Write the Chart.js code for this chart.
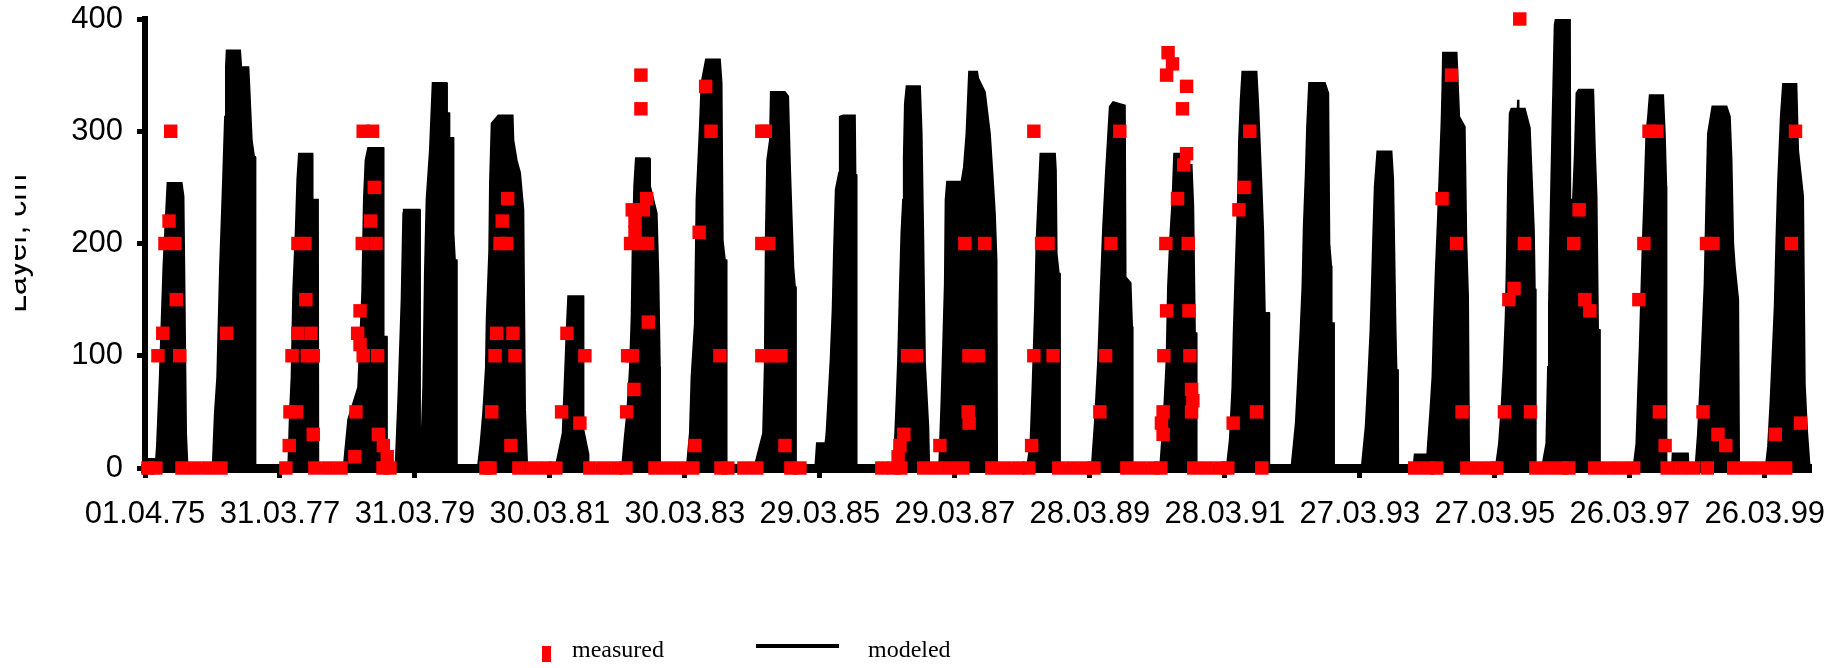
<!DOCTYPE html>
<html>
<head>
<meta charset="utf-8">
<title>Layer, cm</title>
<script src="https://cdn.jsdelivr.net/npm/chart.js@4.4.1/dist/chart.umd.min.js"></script>
<style>
  html, body { margin: 0; padding: 0; background: #fff; }
  #box { width: 1848px; height: 668px; }
</style>
</head>
<body>
<div id="box"><canvas id="grafico"></canvas></div>
<script>
// x = days since 01.04.1975, y = layer in cm
const xTickLabels = ['01.04.75', '31.03.77', '31.03.79', '30.03.81', '30.03.83', '29.03.85', '29.03.87',
                     '28.03.89', '28.03.91', '27.03.93', '27.03.95', '26.03.97', '26.03.99'];
const tickStep = 730;
const lastDay = 9010;
const seriesNames = ['measured', 'modeled'];

const measured = [
  [16,0],[59,0],[70,100],[96,120],[108,200],[130,220],[139,300],[162,200],[169,150],[188,100],
  [200,0],[270,0],[341,0],[411,0],[442,120],
  [762,0],[780,20],[784,50],[795,100],[820,50],[826,120],[827,200],[865,200],[870,150],[878,100],[898,120],[910,100],[910,30],
  [919,0],[990,0],[1060,0],[1135,10],
  [1141,50],[1150,120],[1163,140],[1163,110],[1175,200],[1180,100],[1180,300],[1220,220],[1231,300],[1240,250],[1249,200],[1258,100],[1262,30],[1287,0],[1289,20],[1310,10],[1325,0],
  [1844,0],[1866,0],[1875,50],[1893,100],[1902,120],[1920,200],[1932,220],[1956,200],[1961,240],[1979,20],[1990,120],[2001,100],
  [2022,0],[2093,0],[2163,0],[2222,0],
  [2253,50],[2282,120],[2352,40],[2379,100],
  [2406,0],[2477,0],[2547,0],[2601,0],
  [2605,50],[2610,100],[2626,200],[2635,100],[2635,230],[2644,70],[2650,220],[2650,210],[2677,200],[2682,350],[2682,320],[2695,230],[2713,240],[2718,200],[2722,130],
  [2758,0],[2828,0],[2898,0],[2963,0],
  [2974,20],[2997,210],[3032,340],[3061,300],[3109,100],
  [3115,0],[3152,0],[3239,0],[3309,0],
  [3336,300],[3355,300],[3336,200],[3374,200],[3336,100],[3390,100],[3439,100],[3461,20],
  [3493,0],[3542,0],
  [3985,0],[4050,0],[4073,10],[4083,20],[4088,0],[4104,30],[4124,100],[4173,100],
  [4212,0],[4282,0],[4353,0],[4423,0],
  [4299,20],[4434,200],[4452,50],[4456,100],[4457,40],[4506,100],[4542,200],
  [4580,0],[4650,0],[4721,0],[4780,0],
  [4795,20],[4807,100],[4807,300],[4849,200],[4884,200],[4911,100],
  [4942,0],[5013,0],[5083,0],[5132,0],
  [5164,50],[5195,100],[5224,200],[5272,300],
  [5310,0],[5380,0],[5451,0],[5494,0],
  [5497,40],[5506,50],[5506,30],[5510,100],[5521,200],[5525,350],[5525,140],[5533,370],[5557,360],[5584,240],[5611,320],[5618,270],[5633,340],[5633,280],[5642,200],[5646,140],[5651,100],[5660,70],[5667,60],[5660,50],
  [5672,0],[5742,0],[5813,0],[5856,0],
  [5885,40],[5916,230],[5944,250],[5975,300],[6011,50],[6040,0],
  [6867,0],[6938,0],[6986,0],
  [7015,240],[7066,350],[7093,200],[7123,50],
  [7149,0],[7219,0],[7289,0],[7311,0],
  [7352,50],[7376,150],[7404,160],[7435,400],[7460,200],[7493,50],
  [7522,0],[7592,0],[7662,0],[7700,0],
  [7727,200],[7756,230],[7787,150],[7814,140],
  [7841,0],[7911,0],[7981,0],[8051,0],
  [8079,150],[8106,200],[8134,300],[8177,300],[8190,50],[8221,20],
  [8232,0],[8303,0],[8373,0],[8449,0],
  [8426,50],[8445,200],[8480,200],[8507,30],[8549,20],
  [8592,0],[8662,0],[8732,0],[8803,0],[8873,0],
  [8817,30],[8904,200],[8926,300],[8953,40]
];

// outline of the modeled curve, one row per winter
const modeled = [
  [0,0],[15,8],[60,8],[65,20],[80,80],[100,180],[122,254],[198,254],[208,242],[222,30],[230,0],
  [366,0],[378,49],[391,81],[406,179],[420,245],[433,313],[438,357],[442,372],[514,372],[520,357],[559,357],[564,340],[577,292],[590,277],[595,277],[597,0],
  [775,0],[784,49],[793,81],[802,159],[815,209],[824,257],[833,280],[905,280],[906,239],[935,239],[937,0],
  [1075,0],[1081,12],[1099,43],[1153,72],[1175,156],[1184,239],[1193,274],[1207,285],[1289,285],[1290,117],[1307,117],[1308,0],
  [1355,0],[1370,61],[1388,150],[1397,227],[1400,230],[1485,230],[1487,0],
  [1491,0],[1505,72],[1514,174],[1523,239],[1541,283],[1556,343],[1631,343],[1633,316],[1645,316],[1646,294],[1667,294],[1668,209],[1676,185],[1685,185],[1686,0],
  [1800,0],[1815,22],[1829,49],[1844,90],[1848,132],[1862,194],[1866,254],[1875,307],[1911,314],[1988,314],[1992,292],[2010,274],[2028,263],[2046,230],[2055,52],[2067,0],
  [2220,0],[2259,31],[2271,81],[2280,120],[2289,153],[2370,153],[2371,34],[2397,13],[2398,0],
  [2580,0],[2595,28],[2608,49],[2623,90],[2632,135],[2637,191],[2646,251],[2655,276],[2727,276],[2731,251],[2767,227],[2776,173],[2784,90],[2785,0],
  [2930,0],[2947,31],[2956,81],[2974,129],[2983,239],[3001,304],[3010,343],[3034,364],[3109,364],[3118,343],[3124,203],[3136,185],[3144,185],[3145,0],
  [3295,0],[3343,31],[3352,90],[3358,209],[3365,274],[3380,292],[3385,335],[3460,335],[3478,331],[3488,268],[3506,179],[3515,161],[3519,161],[3520,0],
  [3625,0],[3634,22],[3680,22],[3686,31],[3695,58],[3708,96],[3719,141],[3726,191],[3736,248],[3754,263],[3758,313],[3776,314],[3839,314],[3842,261],[3847,261],[3848,0],
  [4050,0],[4065,61],[4073,96],[4082,156],[4091,209],[4100,239],[4104,277],[4110,325],[4119,340],[4191,340],[4200,298],[4209,203],[4218,93],[4236,37],[4241,0],
  [4295,0],[4308,61],[4317,111],[4326,165],[4330,239],[4338,255],[4416,255],[4429,268],[4443,298],[4457,353],[4500,353],[4506,347],[4542,335],[4569,298],[4584,260],[4596,227],[4605,185],[4607,185],[4608,0],
  [4770,0],[4789,22],[4800,72],[4814,144],[4822,203],[4830,233],[4843,280],[4921,280],[4926,265],[4930,191],[4942,173],[4947,173],[4948,0],
  [5120,0],[5137,40],[5155,96],[5168,156],[5182,215],[5197,263],[5218,322],[5236,326],[5299,323],[5303,170],[5330,165],[5338,126],[5341,0],
  [5490,0],[5510,46],[5525,96],[5533,162],[5546,209],[5557,239],[5566,280],[5597,280],[5600,270],[5660,270],[5669,233],[5678,120],[5686,120],[5687,0],
  [5850,0],[5867,25],[5881,72],[5888,120],[5899,179],[5912,245],[5917,292],[5926,328],[5935,353],[6011,353],[6020,325],[6038,251],[6047,212],[6056,138],[6079,138],[6080,0],
  [6200,0],[6224,40],[6236,78],[6249,120],[6260,162],[6267,215],[6278,263],[6285,304],[6296,343],[6381,343],[6399,334],[6405,200],[6415,180],[6417,129],[6429,129],[6430,0],
  [6580,0],[6602,37],[6615,78],[6628,123],[6636,167],[6642,203],[6651,251],[6665,282],[6741,282],[6750,257],[6763,123],[6768,87],[6776,87],[6777,0],
  [6860,0],[6867,12],[6935,12],[6939,22],[6952,52],[6963,81],[6970,123],[6981,176],[6993,224],[7003,268],[7012,307],[7017,340],[7020,370],[7093,370],[7107,313],[7137,304],[7146,200],[7155,153],[7160,153],[7161,0],
  [7305,0],[7323,22],[7336,52],[7348,90],[7359,135],[7366,191],[7372,257],[7381,316],[7390,320],[7424,320],[7426,328],[7428,320],[7462,320],[7489,303],[7511,212],[7516,159],[7520,159],[7521,0],
  [7555,0],[7579,22],[7588,90],[7593,144],[7601,218],[7612,307],[7624,395],[7630,400],[7706,400],[7708,239],[7723,239],[7733,280],[7742,334],[7754,337],[7832,337],[7841,283],[7850,242],[7858,123],[7867,123],[7868,0],
  [8050,0],[8066,22],[8075,67],[8084,108],[8093,159],[8102,209],[8111,251],[8120,298],[8129,313],[8138,332],[8210,332],[8219,298],[8227,251],[8228,0],[8258,0],[8262,13],[8344,13],[8348,0],
  [8385,0],[8399,31],[8412,75],[8423,117],[8435,165],[8444,236],[8453,298],[8477,322],[8553,322],[8571,313],[8580,274],[8589,200],[8598,179],[8616,150],[8620,150],[8621,0],
  [8765,0],[8778,19],[8791,58],[8802,99],[8814,144],[8823,203],[8832,254],[8847,313],[8859,342],[8931,342],[8940,283],[8967,242],[8976,75],[8988,34],[9003,0],[9008,0]
];

// legend symbols: a small red block and a long black bar
function legendIcon(w, h, color, rx, ry, rw, rh) {
  const c = document.createElement('canvas');
  c.width = w; c.height = h;
  const g = c.getContext('2d');
  g.fillStyle = color;
  g.fillRect(rx, ry, rw, rh);
  return c;
}
const legendIcons = [
  legendIcon(96, 22, '#ff0000', 78, 6, 9, 16),
  legendIcon(110, 22, '#000000', 3, 4, 83, 4)
];

// the legend sits left of centre in the original
const legendStart = 464;
const legendSpot = {
  id: 'legendSpot',
  afterLayout(chart) {
    const lg = chart.legend;
    lg.left = legendStart - lg.options.labels.padding;
    lg.top += 5;
  }
};

// the axis title is cut off at the left edge in the original
const titleCrop = {
  id: 'titleCrop',
  afterDraw(chart) {
    const c = chart.ctx;
    c.save();
    c.fillStyle = '#fff';
    c.fillRect(0, 140, 15, 210);
    c.restore();
  }
};

Chart.defaults.font.family = 'Liberation Sans';
Chart.defaults.color = '#000';

const ctx = document.getElementById('grafico').getContext('2d');

const grafico = new Chart(ctx, {
  type: 'line',
  data: {
    datasets: [{
      label: seriesNames[0],
      data: measured.map(p => ({ x: p[0], y: p[1] })),
      showLine: false,
      pointStyle: 'rect',
      pointRadius: 9.5,
      pointHoverRadius: 9.5,
      pointBorderWidth: 0,
      pointBackgroundColor: '#ff0000',
      backgroundColor: '#ff0000',
      borderColor: '#ff0000',
      clip: false
    }, {
      label: seriesNames[1],
      data: modeled.map(p => ({ x: p[0], y: p[1] })),
      borderColor: '#000',
      backgroundColor: '#000',
      borderWidth: 2,
      fill: 'origin',
      pointRadius: 0,
      tension: 0
    }]
  },
  options: {
    responsive: true,
    maintainAspectRatio: false,
    animation: false,
    events: [],
    layout: { padding: { top: 19, right: 37, bottom: 0, left: 0 } },
    plugins: {
      tooltip: { enabled: false },
      legend: {
        position: 'bottom',
        align: 'start',
        labels: {
          usePointStyle: true,
          pointStyleWidth: 96,
          padding: 96,
          color: '#000',
          font: { family: 'Liberation Serif', size: 24 },
          generateLabels(chart) {
            const items = Chart.defaults.plugins.legend.labels.generateLabels(chart);
            items.forEach((it, i) => { it.pointStyle = legendIcons[i]; });
            return items;
          }
        }
      }
    },
    scales: {
      x: {
        type: 'linear',
        min: 0,
        max: lastDay,
        afterBuildTicks: axis => {
          axis.ticks = xTickLabels.map((_, i) => ({ value: i * tickStep }));
        },
        afterFit: axis => { axis.height = 70; },
        ticks: {
          callback: (v, i) => xTickLabels[i],
          autoSkip: false,
          maxRotation: 0,
          padding: 18,
          font: { size: 31 }
        },
        grid: { drawOnChartArea: false, tickLength: 10, tickWidth: 5, tickColor: '#000' },
        border: { color: '#000', width: 9 }
      },
      y: {
        min: 0,
        max: 400,
        afterFit: axis => {
          axis.width = 145;
          axis.paddingTop = 0;
          axis.paddingBottom = 0;
        },
        ticks: { stepSize: 100, padding: 14, font: { size: 31 } },
        grid: { drawOnChartArea: false, tickLength: 8, tickWidth: 5, tickColor: '#000' },
        border: { color: '#000', width: 6 },
        title: {
          display: true,
          text: 'Layer, cm',
          font: { size: 32, lineHeight: 1 },
          padding: { top: 1, bottom: 0 }
        }
      }
    }
  },
  plugins: [legendSpot, titleCrop]
});
</script>
</body>
</html>
